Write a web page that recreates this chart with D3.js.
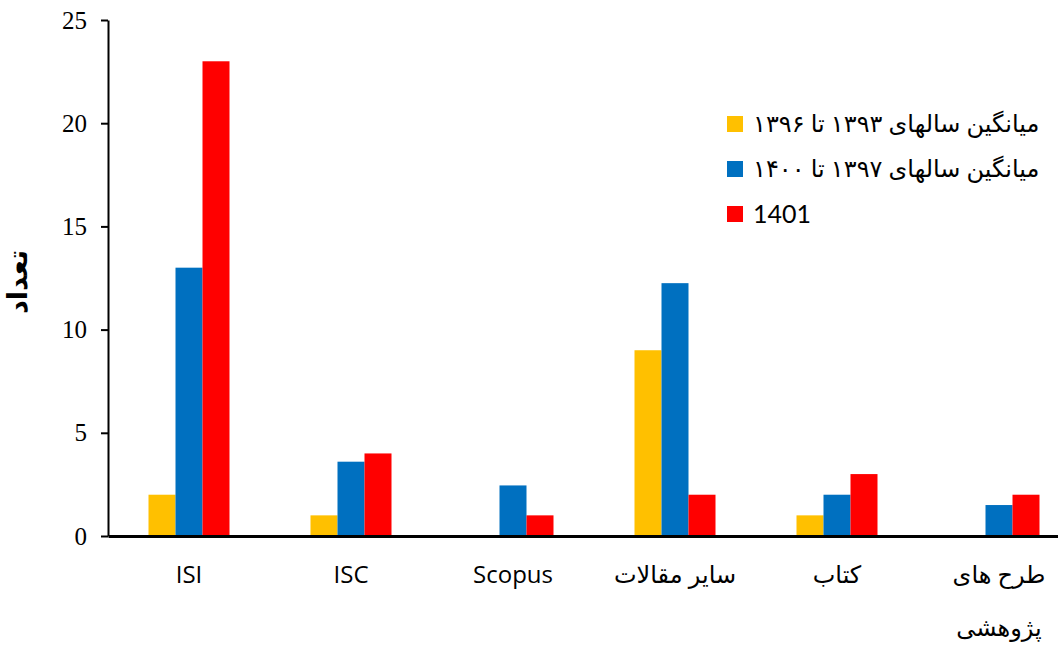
<!DOCTYPE html>
<html>
<head>
<meta charset="utf-8">
<script src="https://cdn.jsdelivr.net/npm/d3@7"></script>
<style>
  body { margin: 0; background: #fff; }
  svg { display: block; }
  .axis path, .axis line { stroke: #000; }
</style>
</head>
<body>
<svg id="chart"></svg>
<script>
// categories on the x axis
var categories = ["ISI", "ISC", "Scopus", "سایر مقالات", "کتاب", "طرح های پژوهشی"];

// series names (legend) and their colours
var seriesNames = ["میانگین سالهای ۱۳۹۳ تا ۱۳۹۶", "میانگین سالهای ۱۳۹۷ تا ۱۴۰۰", "1401"];
var seriesColors = ["#FFC000", "#0070C0", "#FF0000"];

// values per series, in category order
var avg93to96 = [2, 1, 0, 9, 1, 0];
var avg97to00 = [13, 3.6, 2.45, 12.25, 2, 1.5];
var year1401 = [23, 4, 1, 2, 3, 2];

var yTicks = [0, 5, 10, 15, 20, 25];
var yTitle = "تعداد";

var width = 1058, height = 645;
var margin = {top: 20, right: -22, bottom: 109, left: 108};
var plotW = width - margin.left - margin.right;
var plotH = height - margin.top - margin.bottom;

var seriesVals = [avg93to96, avg97to00, year1401];

var svg = d3.select('#chart')
  .attr('width', width)
  .attr('height', height);

var g = svg.append('g')
  .attr('transform', 'translate(' + margin.left + ',' + margin.top + ')');

var x0 = d3.scaleBand().domain(categories)
  .range([0, plotW])
  .paddingInner(0.5)
  .paddingOuter(0.25);

var x1 = d3.scaleBand().domain(d3.range(seriesNames.length))
  .range([0, x0.bandwidth()]);

var y = d3.scaleLinear().domain([0, 25])
  .range([plotH, 0]);

// bars
var groups = g.selectAll('.cat')
  .data(categories)
  .enter()
  .append('g')
    .attr('transform', function(d) { return 'translate(' + x0(d) + ',0)'; });

groups.selectAll('rect')
  .data(function(d, i) {
    return seriesVals.map(function(s, k) { return {k: k, value: s[i]}; });
  })
  .enter()
  .append('rect')
    .attr('x', function(d) { return x1(d.k); })
    .attr('y', function(d) { return y(d.value); })
    .attr('width', x1.bandwidth())
    .attr('height', function(d) { return plotH - y(d.value); })
    .attr('fill', function(d) { return seriesColors[d.k]; });

// y axis
var yAxis = g.append('g')
  .attr('class', 'axis')
  .call(d3.axisLeft(y).tickValues(yTicks).tickSize(7).tickPadding(14).tickSizeOuter(0));
yAxis.select('.domain').attr('stroke-width', 2);
yAxis.selectAll('.tick line').attr('stroke-width', 2);
yAxis.selectAll('text')
  .attr('font-family', '"Liberation Serif", "Times New Roman", serif')
  .attr('font-size', 25)
  .attr('fill', '#000');

// x axis
var xAxis = g.append('g')
  .attr('class', 'axis')
  .attr('transform', 'translate(0,' + plotH + ')')
  .call(d3.axisBottom(x0).tickSize(0).tickPadding(30));
xAxis.select('.domain').attr('stroke-width', 3);
xAxis.selectAll('text')
  .attr('font-family', '"Open Sans", "DejaVu Sans", sans-serif')
  .attr('font-size', 24)
  .attr('fill', '#000')
  .call(wrap, 125);

function wrap(text, w) {
  text.each(function() {
    var t = d3.select(this);
    var words = t.text().split(/\s+/);
    var line = [];
    var lineNo = 0;
    var yy = t.attr('y');
    var dy = parseFloat(t.attr('dy'));
    var tspan = t.text(null).append('tspan').attr('x', 0).attr('y', yy).attr('dy', dy + 'em');
    words.forEach(function(word) {
      line.push(word);
      tspan.text(line.join(' '));
      if (tspan.node().getComputedTextLength() > w && line.length > 1) {
        line.pop();
        tspan.text(line.join(' '));
        line = [word];
        lineNo++;
        tspan = t.append('tspan').attr('x', 0).attr('y', yy)
          .attr('dy', (lineNo * 2.2 + dy) + 'em').text(word);
      }
    });
  });
}

// y title
g.append('text')
  .attr('transform', 'translate(' + (-81) + ',' + (plotH / 2 + 4) + ') rotate(-90)')
  .attr('text-anchor', 'middle')
  .attr('font-family', '"DejaVu Sans", sans-serif')
  .attr('font-weight', 'bold')
  .attr('font-size', 27)
  .text(yTitle);

// legend
var legend = svg.append('g')
  .attr('transform', 'translate(727,124)');

var item = legend.selectAll('.item')
  .data(seriesNames)
  .enter()
  .append('g')
    .attr('transform', function(d, i) { return 'translate(0,' + (i * 45) + ')'; });

item.append('rect')
  .attr('x', 0)
  .attr('y', -8)
  .attr('width', 16)
  .attr('height', 16)
  .attr('fill', function(d, i) { return seriesColors[i]; });

item.append('text')
  .attr('x', 26)
  .attr('dy', '0.35em')
  .attr('font-family', 'Lato, "DejaVu Sans", sans-serif')
  .attr('font-size', function(d, i) { return i == 2 ? 25 : 24; })
  .text(function(d) { return d; });
</script>
</body>
</html>
